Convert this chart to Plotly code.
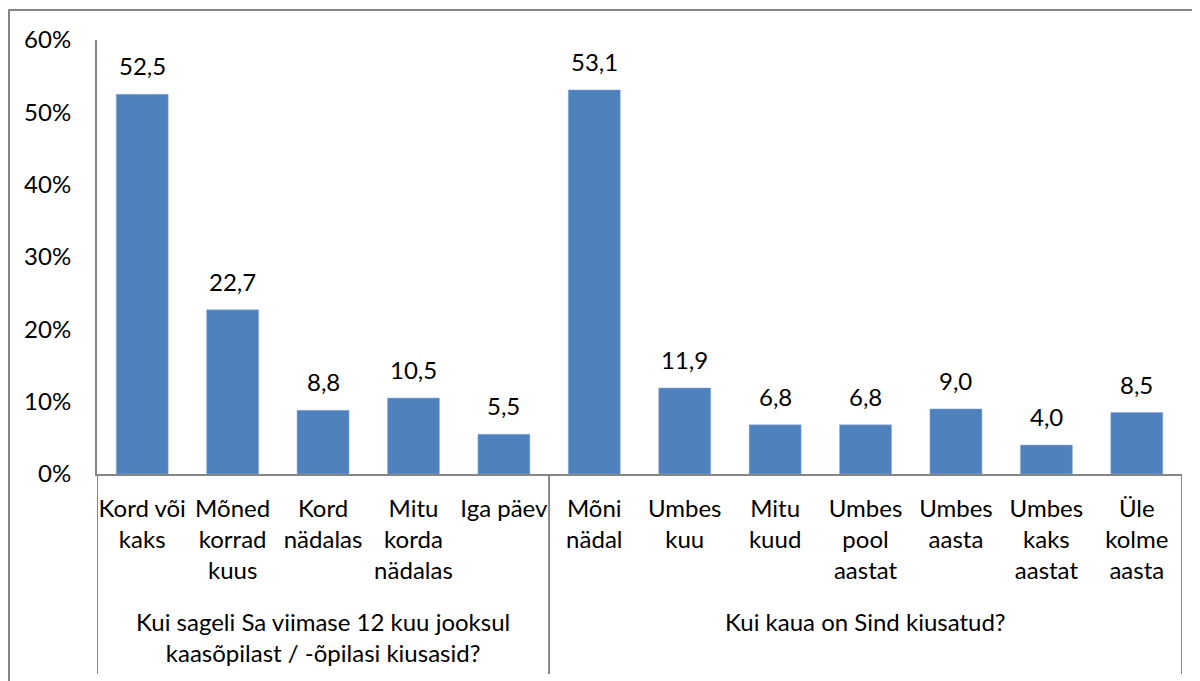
import plotly.graph_objects as go

categories = [
    "Kord või<br>kaks", "Mõned<br>korrad<br>kuus", "Kord<br>nädalas", "Mitu<br>korda<br>nädalas", "Iga päev",
    "Mõni<br>nädal", "Umbes<br>kuu", "Mitu<br>kuud", "Umbes<br>pool<br>aastat", "Umbes<br>aasta",
    "Umbes<br>kaks<br>aastat", "Üle<br>kolme<br>aasta",
]
values = [52.5, 22.7, 8.8, 10.5, 5.5, 53.1, 11.9, 6.8, 6.8, 9.0, 4.0, 8.5]
groups = ["Kui sageli Sa viimase 12 kuu jooksul<br>kaasõpilast / -õpilasi kiusasid?", "Kui kaua on Sind kiusatud?"]
group_sizes = [5, 7]
y_ticks = [0, 10, 20, 30, 40, 50, 60]

FONT = "Lato"
FS = 24
GRAY = "#868686"
x = list(range(len(categories)))
labels = [f"{v:.1f}".replace(".", ",") for v in values]

fig = go.Figure(go.Bar(
    x=x, y=values, marker=dict(color="#4F81BD", line=dict(color="#8EB0DA", width=0.5)),
    width=0.575, hoverinfo="skip",
))
for xi, v, t in zip(x, values, labels):
    fig.add_annotation(x=xi, y=v, xref="x", yref="y", text=t, showarrow=False,
                       yanchor="bottom", yshift=12, font=dict(family=FONT, size=FS, color="black"))

W, H = 1192, 673
L, T = 89, 32
PW, PH = 1085, 434
fig.update_layout(
    width=W, height=H,
    margin=dict(l=L, r=W - L - PW, t=T, b=H - T - PH),
    paper_bgcolor="white", plot_bgcolor="white",
    showlegend=False,
    font=dict(family=FONT, size=FS, color="black"),
    bargap=0.425,
)
fig.update_xaxes(
    tickmode="array", tickvals=x, ticktext=categories,
    range=[-0.5, len(categories) - 0.5],
    showline=True, linecolor=GRAY, linewidth=2, ticks="",
    tickfont=dict(family=FONT, size=FS), showgrid=False, ticklabelstandoff=12,
)
fig.update_yaxes(
    range=[0, 60], tickmode="array", tickvals=y_ticks,
    ticktext=[f"{t}%" for t in y_ticks],
    showline=True, linecolor=GRAY, linewidth=2, ticks="",
    showgrid=False, zeroline=False, ticklabelstandoff=19,
    tickfont=dict(family=FONT, size=FS),
)

shapes = []
bounds = [-0.5]
for s in group_sizes:
    bounds.append(bounds[-1] + s)
for b in bounds:
    shapes.append(dict(type="line", xref="x", yref="paper", x0=b, x1=b, y0=0, y1=-200 / PH,
                       line=dict(color=GRAY, width=2)))
for i, g in enumerate(groups):
    mid = (bounds[i] + bounds[i + 1]) / 2
    fig.add_annotation(x=mid, xref="x", y=-131 / PH, yref="paper", text=g, showarrow=False,
                       yanchor="top", font=dict(family=FONT, size=FS), align="center")
# outer border
shapes.append(dict(type="rect", xref="paper", yref="paper",
                   x0=(1 - L) / PW, x1=(W + 20 - L) / PW,
                   y0=-(H + 20 - T - PH) / PH, y1=1 + (T - 2) / PH,
                   line=dict(color=GRAY, width=2)))
fig.update_layout(shapes=shapes)

fig.write_html("out.html")
